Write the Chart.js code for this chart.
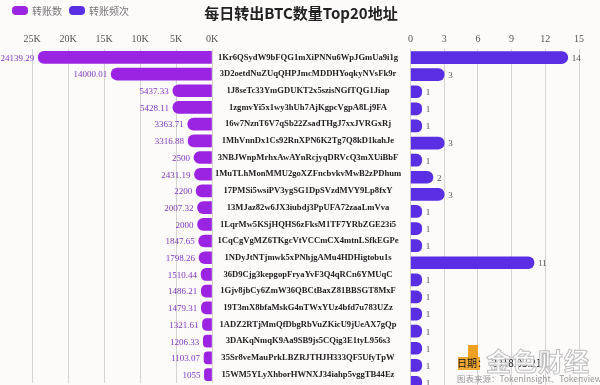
<!DOCTYPE html>
<html>
<head>
<meta charset="utf-8">
<script src="https://cdn.jsdelivr.net/npm/chart.js@4"></script>
<style>
  html, body { margin: 0; padding: 0; background: #fdfafa; }
  #wrap { position: relative; width: 600px; height: 385px; overflow: hidden; font-family: "Noto Sans CJK SC", "Noto Sans", sans-serif; }
  #title { position: absolute; left: 0; width: 602px; top: 2px; text-align: center; font-size: 15px; font-weight: bold; color: #222; }
  #legend { position: absolute; left: 12px; top: 3px; font-size: 10px; color: #777; display: flex; }
  #legend span { display: inline-flex; align-items: center; margin-right: 7px; }
  #legend i { display: inline-block; width: 16px; height: 9px; border-radius: 4px; margin-right: 4px; }
  #left { position: absolute; left: 0; top: 0; }
  #right { position: absolute; left: 404px; top: 0; }
  .foot { position: absolute; left: 457px; font-size: 8.5px; color: #999; white-space: nowrap; }
  #logo1 { position: absolute; left: 468px; top: 345px; width: 10px; height: 14px; background: #f0a020; }
  #logo2 { position: absolute; left: 458px; top: 357px; width: 22px; height: 13px; background: #f0a020; opacity: 0.9; }
  #mark { position: absolute; left: 486px; top: 342px; font-size: 25px; font-weight: bold; color: rgba(255,255,255,0.85); -webkit-text-stroke: 1px #bdbdbd; letter-spacing: 1px; }
</style>
</head>
<body>
<div id="wrap">
  <canvas id="left" width="600" height="391"></canvas>
  <canvas id="right" width="196" height="391"></canvas>
  <div id="title">每日转出BTC数量Top20地址</div>
  <div id="legend"></div>
  <div id="logo1"></div>
  <div id="logo2"></div>
  <div class="foot" style="top:355px; color:#111; font-size:10px;">日期：&nbsp;&nbsp;2018.03.21</div>
  <div id="mark">金色财经</div>
  <div class="foot" style="top:372px;">图表来源：TokenInsight、Tokenview</div>
</div>
<script>
const addresses = [
  '1Kr6QSydW9bFQG1mXiPNNu6WpJGmUa9i1g',
  '3D2oetdNuZUqQHPJmcMDDHYoqkyNVsFk9r',
  '1J8seTc33YmGDUKT2x5szisNGfTQG1Jiap',
  '1zgmvYi5x1wy3hUh7AjKgpcVgpA8Lj9FA',
  '16w7NznT6V7qSb22ZsadTHgJ7xxJVRGxRj',
  '1MhVnnDx1Cs92RnXPN6K2Tg7Q8kD1kahJe',
  '3NBJWnpMrhxAwAYnRcjyqDRVcQ3mXUiBbF',
  '1MuTLhMonMMU2goXZFncbvkvMwB2zPDhum',
  '17PMSi5wsiPV3ygSG1DpSVzdMVY9Lp8fxY',
  '13MJaz82w6JX3iubdj3PpUFA72zaaLmVva',
  '1LqrMw5KSjHQHS6zFksM1TF7YRbZGE23i5',
  '1CqCgVgMZ6TKgcVtVCCmCX4mtnLSfkEGPe',
  '1NDyJtNTjmwk5xPNhjgAMu4HDHigtobu1s',
  '36D9Cjg3kepgopFryaYvF3Q4qRCn6YMUqC',
  '1Gjv8jbCy6ZmW36QBCtBaxZ81BBSGT8MxF',
  '19T3mX8bfaMskG4nTWxYUz4bfd7u783UZz',
  '1ADZ2RTjMmQfDbgRbVuZKicU9jUeAX7gQp',
  '3DAKqNmqK9Aa9SB9js5CQig3E1tyL956s3',
  '35Sr8veMauPrkLBZRJTHJH333QF5UfyTpW',
  '15WM5YLyXhborHWNXJ34iahp5vggTB44Ez'
];
const amounts = [24139.29, 14000.01, 5437.33, 5428.11, 3363.71, 3316.88, 2500, 2431.19, 2200, 2007.32,
  2000, 1847.65, 1798.26, 1510.44, 1486.21, 1479.31, 1321.61, 1206.33, 1103.07, 1055];
const counts = [14, 3, 1, 1, 1, 3, 1, 2, 3, 1, 1, 1, 11, 1, 1, 1, 1, 1, 1, 1];

const seriesNames = ['转账数', '转账频次'];
const seriesColors = ['#9a24e2', '#5a2fe4'];

// legend
const legend = document.getElementById('legend');
seriesNames.forEach((name, i) => {
    const item = document.createElement('span');
    item.innerHTML = `<i style="background:${seriesColors[i]}"></i>${name}`;
    legend.appendChild(item);
});

const valueLabels = {
    id: 'valueLabels',
    afterDatasetsDraw(chart, args, opts) {
        const ctx = chart.ctx;
        const meta = chart.getDatasetMeta(0);
        const values = chart.data.datasets[0].data;
        ctx.save();
        ctx.font = opts.font;
        ctx.fillStyle = opts.color;
        ctx.textBaseline = 'middle';
        ctx.textAlign = opts.side === 'left' ? 'right' : 'left';
        meta.data.forEach((bar, i) => {
            const x = opts.side === 'left' ? bar.x - 4 : bar.x + 4;
            ctx.fillText(String(values[i]), x, bar.y + 1);
        });
        ctx.restore();
    }
};

const serif = '"Liberation Serif", "Times New Roman", serif';
const tickFont = { family: serif, size: 10 };
const gridColor = '#d6d3d3';
const labelFont = { family: serif, size: 8.6, weight: 'bold' };
const labelBand = 192;

// centre the address column between the two charts
const measure = document.createElement('canvas').getContext('2d');
measure.font = `bold ${labelFont.size}px ${serif}`;
const widest = Math.max(...addresses.map(a => measure.measureText(a).width));
const labelPad = (labelBand - widest) / 2;

function fixHeight(axis) { axis.height = 18; }

new Chart(document.getElementById('left'), {
    type: 'bar',
    data: {
        labels: addresses,
        datasets: [{
            data: amounts,
            backgroundColor: seriesColors[0],
            borderRadius: 6,
            borderSkipped: 'start',
            barThickness: 12
        }]
    },
    options: {
        indexAxis: 'y',
        responsive: false,
        animation: false,
        layout: { padding: { top: 31, left: 32, right: 196, bottom: 0 } },
        scales: {
            x: {
                position: 'top',
                reverse: true,
                min: 0,
                max: 25000,
                afterFit: fixHeight,
                grid: { color: gridColor, drawTicks: false },
                border: { display: false },
                ticks: {
                    stepSize: 5000,
                    padding: 4,
                    color: '#555',
                    font: tickFont,
                    callback: v => (v / 1000) + 'K'
                }
            },
            y: {
                position: 'right',
                afterFit: axis => { axis.width = labelBand; },
                grid: { display: false, drawTicks: false },
                border: { display: false },
                ticks: {
                    crossAlign: 'center',
                    autoSkip: false,
                    padding: labelPad,
                    color: '#222',
                    font: labelFont
                }
            }
        },
        plugins: {
            legend: { display: false },
            tooltip: { enabled: false },
            valueLabels: { side: 'left', color: '#7c38bc', font: '9px ' + serif }
        }
    },
    plugins: [valueLabels]
});

new Chart(document.getElementById('right'), {
    type: 'bar',
    data: {
        labels: addresses,
        datasets: [{
            data: counts,
            backgroundColor: seriesColors[1],
            borderRadius: 6,
            borderSkipped: 'start',
            barThickness: 12
        }]
    },
    options: {
        indexAxis: 'y',
        responsive: false,
        animation: false,
        layout: { padding: { top: 31, left: 0, right: 21, bottom: 0 } },
        scales: {
            x: {
                position: 'top',
                min: 0,
                max: 15,
                afterFit: fixHeight,
                grid: { color: gridColor, drawTicks: false },
                border: { display: false },
                ticks: { stepSize: 3, padding: 4, color: '#555', font: tickFont }
            },
            y: { display: false }
        },
        plugins: {
            legend: { display: false },
            tooltip: { enabled: false },
            valueLabels: { side: 'right', color: '#555', font: '9px ' + serif }
        }
    },
    plugins: [valueLabels]
});
</script>
</body>
</html>
